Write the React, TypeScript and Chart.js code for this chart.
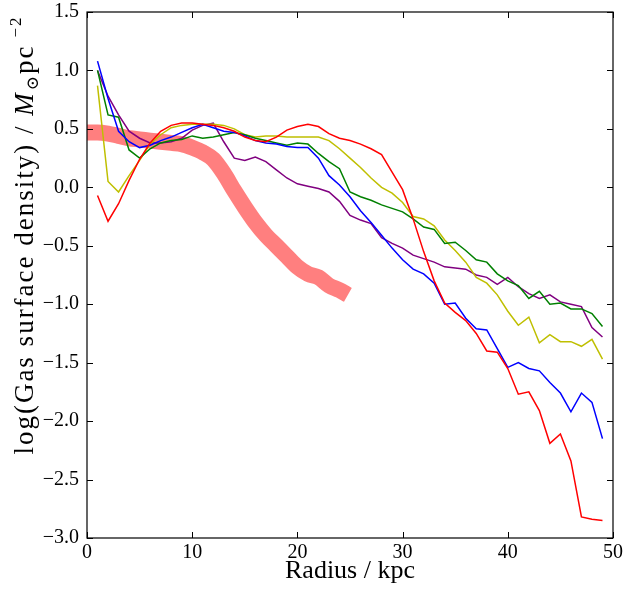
import React, { useEffect, useRef } from "react";
import { Chart, registerables } from "chart.js";

Chart.register(...registerables);

// Radius samples (kpc) for the simulated profiles
const radius = [
  1, 2, 3, 4, 5, 6, 7, 8, 9, 10, 11, 12, 13, 14, 15, 16, 17, 18, 19, 20, 21, 22, 23, 24, 25,
  26, 27, 28, 29, 30, 31, 32, 33, 34, 35, 36, 37, 38, 39, 40, 41, 42, 43, 44, 45, 46, 47, 48, 49,
];

const redValues = [
  -0.07, -0.29, -0.14, 0.06, 0.24, 0.38, 0.48, 0.53, 0.55, 0.55, 0.54, 0.53, 0.51, 0.48, 0.43,
  0.4, 0.39, 0.43, 0.49, 0.52, 0.54, 0.52, 0.46, 0.42, 0.4, 0.37, 0.33, 0.28, 0.13, -0.02,
  -0.27, -0.55, -0.8, -0.99, -1.07, -1.14, -1.25, -1.4, -1.41, -1.55, -1.77, -1.75, -1.91,
  -2.19, -2.11, -2.34, -2.82, -2.84, -2.85,
];

const blueValues = [
  1.08, 0.76, 0.48, 0.39, 0.34, 0.36, 0.4, 0.43, 0.47, 0.51, 0.54, 0.51, 0.48, 0.47, 0.44,
  0.4, 0.38, 0.37, 0.35, 0.34, 0.34, 0.25, 0.1, 0.02, -0.08, -0.2, -0.3, -0.41, -0.52, -0.62,
  -0.7, -0.74, -0.82, -1.0, -0.99, -1.12, -1.21, -1.22, -1.38, -1.54, -1.5, -1.55, -1.57,
  -1.67, -1.76, -1.92, -1.76, -1.84, -2.15,
];

const greenValues = [
  1.0, 0.62, 0.6, 0.32, 0.25, 0.33, 0.38, 0.4, 0.41, 0.44, 0.42, 0.43, 0.45, 0.47, 0.45, 0.42,
  0.4, 0.38, 0.36, 0.38, 0.37, 0.29, 0.22, 0.16, -0.04, -0.08, -0.11, -0.15, -0.18, -0.21,
  -0.27, -0.34, -0.36, -0.48, -0.47, -0.54, -0.62, -0.64, -0.74, -0.8, -0.84, -0.95, -0.89,
  -1.0, -0.99, -1.04, -1.04, -1.08, -1.19,
];

const yellowValues = [
  0.87, 0.05, -0.04, 0.1, 0.23, 0.37, 0.45, 0.51, 0.53, 0.54, 0.54, 0.54, 0.53, 0.5, 0.45,
  0.43, 0.44, 0.44, 0.43, 0.43, 0.43, 0.43, 0.4, 0.33, 0.25, 0.17, 0.08, 0.0, -0.05, -0.13,
  -0.25, -0.27, -0.33, -0.45, -0.54, -0.64, -0.77, -0.82, -0.92, -1.06, -1.18, -1.11, -1.33,
  -1.26, -1.32, -1.32, -1.36, -1.3, -1.47,
];

const purpleValues = [
  1.0, 0.78, 0.62, 0.48, 0.42, 0.38, 0.38, 0.39, 0.42, 0.49, 0.53, 0.55, 0.39, 0.25, 0.23,
  0.26, 0.22, 0.15, 0.08, 0.03, 0.01, -0.01, -0.04, -0.12, -0.24, -0.28, -0.31, -0.43, -0.48,
  -0.52, -0.58, -0.61, -0.64, -0.68, -0.69, -0.7, -0.75, -0.77, -0.83, -0.77, -0.85, -0.91,
  -0.95, -0.92, -0.98, -1.0, -1.02, -1.2, -1.28,
];

// Observed profile (thick band)
const bandRadius = [
  0, 1, 2, 3, 4, 5, 6, 7, 8, 9, 10, 11, 12, 13, 14, 15, 16, 17, 18, 19, 20, 21, 22, 23, 24, 24.8,
];
const bandValues = [
  0.47, 0.47, 0.46, 0.44, 0.42, 0.41, 0.4, 0.39, 0.38, 0.37, 0.34, 0.3, 0.24, 0.12, -0.03,
  -0.17, -0.3, -0.41, -0.5, -0.59, -0.68, -0.74, -0.77, -0.84, -0.88, -0.92,
];

const xTickValues = [0, 10, 20, 30, 40, 50];
const yTickValues = [-3.0, -2.5, -2.0, -1.5, -1.0, -0.5, 0.0, 0.5, 1.0, 1.5];

const xTitle = "Radius / kpc";
const yTitleMain = "log(Gas surface density) / ";

const FONT = '"Liberation Serif", "DejaVu Serif", serif';

const toPoints = (xs: number[], ys: number[]) => xs.map((x, i) => ({ x, y: ys[i] }));

const framePlugin = {
  id: "frameTicks",
  afterDraw(chart: any) {
    const { ctx, chartArea, scales } = chart;
    const { left, right, top, bottom } = chartArea;
    const len = 6;
    ctx.save();
    ctx.strokeStyle = "#000";
    ctx.lineWidth = 1;
    ctx.beginPath();
    for (const v of xTickValues) {
      const px = Math.round(scales.x.getPixelForValue(v)) + 0.5;
      ctx.moveTo(px, bottom);
      ctx.lineTo(px, bottom - len);
      ctx.moveTo(px, top);
      ctx.lineTo(px, top + len);
    }
    for (const v of yTickValues) {
      const py = Math.round(scales.y.getPixelForValue(v)) + 0.5;
      ctx.moveTo(left, py);
      ctx.lineTo(left + len, py);
      ctx.moveTo(right, py);
      ctx.lineTo(right - len, py);
    }
    ctx.stroke();
    ctx.lineWidth = 1.2;
    ctx.strokeRect(left, top, right - left, bottom - top);
    ctx.restore();
  },
};

const yTitlePlugin = {
  id: "yTitle",
  afterDraw(chart: any) {
    const ctx = chart.ctx;
    const big = 27;
    const small = 17;
    const segs = [
      { t: yTitleMain, f: `${big}px ${FONT}`, dy: 0, gap: 0 },
      { t: "M", f: `italic ${big}px ${FONT}`, dy: 0, gap: 0 },
      { t: "\u2299", f: `${small}px ${FONT}`, dy: 5, gap: 1 },
      { t: "pc", f: `${big}px ${FONT}`, dy: 0, gap: 0 },
      { t: "\u22122", f: `${small}px ${FONT}`, dy: -12, gap: 7 },
    ];
    ctx.save();
    (ctx as any).letterSpacing = "2px";
    let total = 0;
    const widths = segs.map((s) => {
      ctx.font = s.f;
      const w = ctx.measureText(s.t).width;
      total += w + s.gap;
      return w;
    });
    const cx = 24;
    const cy = 235;
    ctx.translate(cx, cy);
    ctx.rotate(-Math.PI / 2);
    ctx.fillStyle = "#000";
    ctx.textBaseline = "alphabetic";
    ctx.textAlign = "left";
    let x = -total / 2;
    segs.forEach((s, i) => {
      x += s.gap;
      ctx.font = s.f;
      ctx.fillText(s.t, x, 9 + s.dy);
      x += widths[i];
    });
    ctx.restore();
  },
};

export default function App() {
  const canvasRef = useRef<HTMLCanvasElement | null>(null);

  useEffect(() => {
    document.body.style.margin = "0";
    document.body.style.overflow = "hidden";
    const canvas = canvasRef.current;
    if (!canvas) return;
    const thin = (label: string, color: string, ys: number[]) => ({
      label,
      data: toPoints(radius, ys),
      borderColor: color,
      backgroundColor: color,
      borderWidth: 1.5,
      pointRadius: 0,
      tension: 0,
      fill: false,
    });
    const chart = new Chart(canvas, {
      type: "line",
      data: {
        datasets: [
          thin("red", "#ff0000", redValues),
          thin("blue", "#0000ff", blueValues),
          thin("green", "#008000", greenValues),
          thin("yellow", "#bfbf00", yellowValues),
          thin("purple", "#800080", purpleValues),
          {
            label: "observed",
            data: toPoints(bandRadius, bandValues),
            borderColor: "rgba(255,0,0,0.5)",
            backgroundColor: "rgba(255,0,0,0.5)",
            borderWidth: 16,
            pointRadius: 0,
            cubicInterpolationMode: "monotone",
            borderJoinStyle: "round",
            borderCapStyle: "butt",
            fill: false,
            clip: 0,
          } as any,
        ],
      },
      options: {
        responsive: false,
        animation: false,
        events: [],
        layout: { padding: { top: 12, right: 10, left: 0, bottom: 0 } },
        plugins: {
          legend: { display: false },
          tooltip: { enabled: false },
        },
        scales: {
          x: {
            type: "linear",
            min: 0,
            max: 50,
            afterBuildTicks: (scale: any) => {
              scale.ticks = xTickValues.map((v) => ({ value: v }));
            },
            afterFit: (scale: any) => {
              scale.height = 52;
              scale.paddingLeft = 0;
              scale.paddingRight = 0;
            },
            grid: { display: false, drawTicks: false },
            border: { display: false },
            ticks: {
              color: "#000",
              font: { family: FONT, size: 20 },
              padding: 3,
              maxRotation: 0,
              callback: (v: any) => String(v),
            },
            title: {
              display: true,
              text: xTitle,
              color: "#000",
              font: { family: FONT, size: 26 },
              padding: { top: 0, bottom: 3 },
            },
          },
          y: {
            type: "linear",
            min: -3,
            max: 1.5,
            afterBuildTicks: (scale: any) => {
              scale.ticks = yTickValues.map((v) => ({ value: v }));
            },
            afterFit: (scale: any) => {
              scale.width = 87;
              scale.paddingTop = 0;
              scale.paddingBottom = 0;
            },
            grid: { display: false, drawTicks: false },
            border: { display: false },
            ticks: {
              color: "#000",
              font: { family: FONT, size: 20 },
              padding: 8,
              callback: (v: any) => Number(v).toFixed(1).replace("-", "\u2212"),
            },
          },
        },
      },
      plugins: [framePlugin, yTitlePlugin],
    } as any);
    return () => chart.destroy();
  }, []);

  return (
    <div style={{ width: 623, height: 590 }}>
      <canvas ref={canvasRef} width={623} height={590} style={{ display: "block" }} />
    </div>
  );
}
